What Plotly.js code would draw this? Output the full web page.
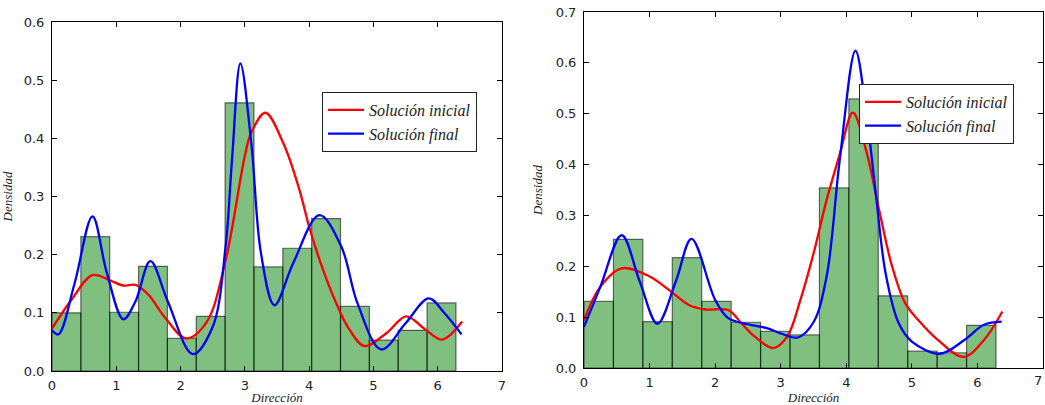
<!DOCTYPE html>
<html>
<head>
<meta charset="utf-8">
<script src="https://cdn.plot.ly/plotly-3.0.1.min.js"></script>
<style>html,body{margin:0;padding:0;background:#fff;}#chart{width:1045px;height:405px;}</style>
</head>
<body>
<div id="chart"></div>
<script>
// ---- data ----
var nBins = 14;
var histLeft  = [0.100, 0.231, 0.101, 0.180, 0.056, 0.094, 0.461, 0.179, 0.211, 0.262, 0.111, 0.053, 0.070, 0.117];
var histRight = [0.131, 0.253, 0.091, 0.217, 0.131, 0.090, 0.072, 0.065, 0.354, 0.529, 0.142, 0.033, 0.030, 0.084];

var redLeftX  = [0, 0.3, 0.63, 0.9, 1.1, 1.3, 1.5, 1.75, 2.09, 2.4, 2.7, 3.0, 3.1, 3.32, 3.6, 3.85, 4.0, 4.2, 4.4, 4.6, 4.86, 5.2, 5.51, 5.8, 6.07, 6.38];
var redLeftY  = [0.073, 0.122, 0.165, 0.156, 0.147, 0.148, 0.131, 0.093, 0.056, 0.083, 0.19, 0.37, 0.41, 0.444, 0.391, 0.311, 0.248, 0.179, 0.122, 0.076, 0.043, 0.065, 0.094, 0.072, 0.054, 0.085];
var blueLeftX = [0, 0.1, 0.35, 0.63, 0.85, 1.11, 1.3, 1.53, 1.8, 2.19, 2.5, 2.7, 2.8, 2.93, 3.1, 3.25, 3.46, 3.75, 4.16, 4.5, 4.75, 5.12, 5.5, 5.86, 6.1, 6.37];
var blueLeftY = [0.070, 0.063, 0.15, 0.266, 0.17, 0.089, 0.12, 0.189, 0.12, 0.029, 0.076, 0.214, 0.363, 0.529, 0.392, 0.203, 0.113, 0.185, 0.268, 0.214, 0.117, 0.037, 0.082, 0.125, 0.1, 0.063];

var redRightX  = [0, 0.25, 0.575, 1.0, 1.3, 1.6, 1.85, 2.2, 2.4, 2.6, 2.89, 3.1, 3.3, 3.5, 3.7, 3.9, 4.1, 4.3, 4.5, 4.7, 4.9, 5.1, 5.4, 5.79, 6.1, 6.38];
var redRightY  = [0.094, 0.16, 0.196, 0.18, 0.153, 0.124, 0.115, 0.114, 0.088, 0.062, 0.039, 0.062, 0.134, 0.225, 0.33, 0.42, 0.502, 0.429, 0.311, 0.199, 0.127, 0.094, 0.055, 0.022, 0.055, 0.111];
var blueRightX = [0, 0.25, 0.575, 0.85, 1.12, 1.4, 1.64, 2.0, 2.2, 2.5, 2.8, 3.0, 3.26, 3.5, 3.7, 3.9, 4.14, 4.3, 4.45, 4.6, 4.8, 5.0, 5.43, 5.8, 6.1, 6.37];
var blueRightY = [0.081, 0.16, 0.261, 0.17, 0.087, 0.17, 0.254, 0.134, 0.098, 0.086, 0.078, 0.068, 0.06, 0.09, 0.18, 0.409, 0.624, 0.507, 0.343, 0.186, 0.088, 0.052, 0.028, 0.055, 0.085, 0.091];

var nameInicial = 'Solución inicial';
var nameFinal = 'Solución final';
var xTitle = 'Dirección';
var yTitle = 'Densidad';
var lastTickLabel = '7';

// ---- build ----
var binWidth = 2 * Math.PI / nBins;
var binCenters = [];
for (var i = 0; i < nBins; i++) binCenters.push((i + 0.5) * binWidth);

function bars(h, xa, ya) {
  return {type: 'bar', x: binCenters, y: h, width: binWidth, xaxis: xa, yaxis: ya,
    marker: {color: 'rgba(0,128,0,0.5)', line: {color: 'rgba(0,0,0,0.55)', width: 1.2}},
    showlegend: false, hoverinfo: 'skip'};
}
function curve(x, y, color, name, xa, ya, leg) {
  return {type: 'scatter', mode: 'lines', x: x, y: y, name: name, xaxis: xa, yaxis: ya, legend: leg,
    line: {color: color, width: 2.3, shape: 'spline', smoothing: 1}};
}

var data = [
  bars(histLeft, 'x', 'y'),
  curve(redLeftX, redLeftY, 'rgb(255,0,0)', nameInicial, 'x', 'y', 'legend'),
  curve(blueLeftX, blueLeftY, 'rgb(0,0,255)', nameFinal, 'x', 'y', 'legend'),
  bars(histRight, 'x2', 'y2'),
  curve(redRightX, redRightY, 'rgb(255,0,0)', nameInicial, 'x2', 'y2', 'legend2'),
  curve(blueRightX, blueRightY, 'rgb(0,0,255)', nameFinal, 'x2', 'y2', 'legend2')
];

var tickFont = {family: 'DejaVu Sans', size: 13, color: '#222'};
var titleFont = {family: 'Liberation Serif', size: 13, color: '#222', style: 'italic'};
function xax(dom, anchor) {
  return {domain: dom, anchor: anchor, range: [0, 7], dtick: 1, tick0: 0, showgrid: false, zeroline: false,
    showline: true, linecolor: '#000', linewidth: 1, mirror: 'allticks', ticks: 'inside', ticklen: 5,
    tickcolor: '#000', tickfont: tickFont, ticklabelstandoff: 2,
    title: {text: xTitle, font: titleFont, standoff: 4}};
}
function yax(dom, anchor, max) {
  return {domain: dom, anchor: anchor, range: [0, max], dtick: 0.1, tick0: 0, tickformat: '.1f',
    showgrid: false, zeroline: false, showline: true, linecolor: '#000', linewidth: 1, mirror: 'allticks',
    ticks: 'inside', ticklen: 5, tickcolor: '#000', tickfont: tickFont, ticklabelstandoff: 4,
    title: {text: yTitle, font: titleFont, standoff: 10}};
}
var legFont = {family: 'Liberation Serif', size: 16, color: '#222', style: 'italic'};
var layout = {
  width: 1045, height: 405,
  margin: {l: 0, r: 0, t: 0, b: 0},
  paper_bgcolor: '#fff', plot_bgcolor: '#fff',
  bargap: 0,
  xaxis: xax([52/1045, 502/1045], 'y'),
  yaxis: yax([34/405, 383/405], 'x', 0.6),
  xaxis2: xax([584/1045, 1043/1045], 'y2'),
  yaxis2: yax([37/405, 393/405], 'x2', 0.7),
  legend: {x: 322/1045, y: (405-92)/405, xanchor: 'left', yanchor: 'top', bgcolor: '#fff',
    bordercolor: '#222', borderwidth: 1, font: legFont, itemwidth: 36, tracegroupgap: 0},
  legend2: {x: 859/1045, y: (405-84)/405, xanchor: 'left', yanchor: 'top', bgcolor: '#fff',
    bordercolor: '#222', borderwidth: 1, font: legFont, itemwidth: 36, tracegroupgap: 0},
  annotations: [{text: lastTickLabel, xref: 'x2', yref: 'y2', x: 7, y: 0, yanchor: 'top', xanchor: 'right',
    xshift: 1, yshift: -3, showarrow: false, font: tickFont}],
  showlegend: true
};
Plotly.newPlot('chart', data, layout, {staticPlot: true});
</script>
</body>
</html>
